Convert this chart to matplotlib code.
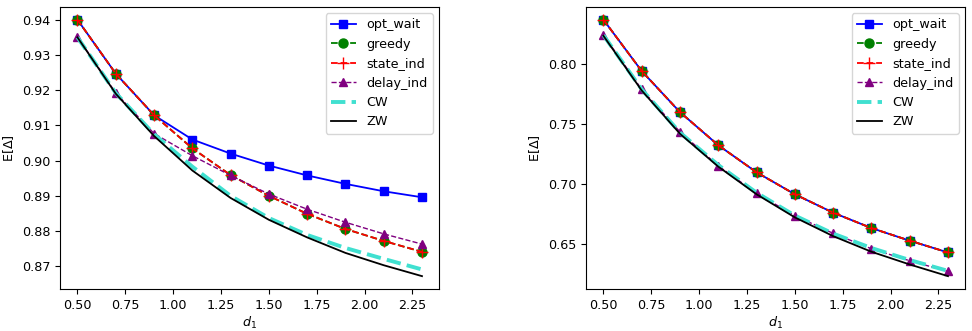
import matplotlib
matplotlib.use("Agg")
import matplotlib.pyplot as plt

plt.rcParams['font.size'] = 9.2

d1 = [0.5, 0.7, 0.9, 1.1, 1.3, 1.5, 1.7, 1.9, 2.1, 2.3]

# Left panel
L_opt_wait = [0.940, 0.9247, 0.9129, 0.9060, 0.9020, 0.8986, 0.8958, 0.8934, 0.8913, 0.8896]
L_greedy = [0.940, 0.9247, 0.9129, 0.9035, 0.8959, 0.8900, 0.8849, 0.8806, 0.8772, 0.8741]
L_state_ind = [0.940, 0.9247, 0.9129, 0.9035, 0.8959, 0.8900, 0.8849, 0.8806, 0.8772, 0.8741]
L_delay_ind = [0.9351, 0.9192, 0.9077, 0.9014, 0.8958, 0.8905, 0.8862, 0.8825, 0.8792, 0.8763]
L_CW = [0.9350, 0.9192, 0.9075, 0.8983, 0.8900, 0.8837, 0.8789, 0.8752, 0.8721, 0.8691]
L_ZW = [0.9350, 0.9190, 0.9070, 0.8972, 0.8894, 0.8832, 0.8782, 0.8738, 0.8703, 0.8672]

# Right panel
R_opt_wait = [0.8369, 0.7942, 0.7600, 0.7325, 0.7100, 0.6917, 0.6764, 0.6636, 0.6531, 0.6433]
R_greedy = [0.8369, 0.7942, 0.7600, 0.7325, 0.7100, 0.6917, 0.6764, 0.6636, 0.6531, 0.6433]
R_state_ind = [0.8369, 0.7942, 0.7600, 0.7325, 0.7100, 0.6917, 0.6764, 0.6636, 0.6531, 0.6433]
R_delay_ind = [0.8242, 0.7789, 0.7436, 0.7153, 0.6925, 0.6739, 0.6592, 0.6464, 0.6364, 0.6275]
R_CW = [0.8240, 0.7790, 0.7430, 0.7160, 0.6930, 0.6740, 0.6590, 0.6470, 0.6370, 0.6280]
R_ZW = [0.8235, 0.7780, 0.7420, 0.7147, 0.6917, 0.6725, 0.6569, 0.6439, 0.6333, 0.6236]

fig, axes = plt.subplots(1, 2, figsize=(9.72, 3.31), dpi=100)
fig.subplots_adjust(left=0.062, right=0.993, top=0.979, bottom=0.127, wspace=0.388)

panels = [
    (L_opt_wait, L_greedy, L_state_ind, L_delay_ind, L_CW, L_ZW),
    (R_opt_wait, R_greedy, R_state_ind, R_delay_ind, R_CW, R_ZW),
]

for ax, (ow, gr, si, di, cw, zw) in zip(axes, panels):
    ax.plot(d1, ow, color='blue', linestyle='-', marker='s', markersize=5.5, linewidth=1.3, label='opt_wait')
    ax.plot(d1, gr, color='green', linestyle='--', marker='o', markersize=6.5, linewidth=1.3, label='greedy')
    ax.plot(d1, si, color='red', linestyle='--', marker='+', markersize=9, linewidth=1.3, label='state_ind')
    ax.plot(d1, di, color='purple', linestyle='--', marker='^', markersize=5.5, linewidth=1.0, label='delay_ind')
    ax.plot(d1, cw, color='turquoise', linestyle='--', linewidth=2.8, label='CW')
    ax.plot(d1, zw, color='black', linestyle='-', linewidth=1.3, label='ZW')
    ax.set_xlabel(r'$d_1$', labelpad=2)
    ax.set_ylabel(r'E[$\Delta$]')
    ax.set_xticks([0.5, 0.75, 1.0, 1.25, 1.5, 1.75, 2.0, 2.25])
    ax.legend(loc='upper right')

fig.savefig('out.png', dpi=100)
